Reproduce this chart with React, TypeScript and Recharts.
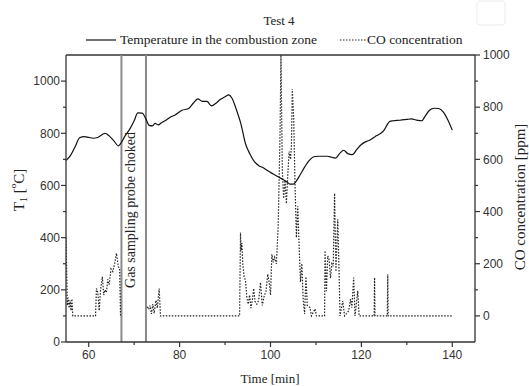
import { ComposedChart, Line, XAxis, YAxis, ReferenceLine } from 'recharts'

// temperature in the combustion zone, left axis [°C]
const tempTime = [
  55, 56, 57, 58, 59, 60, 61, 62, 63, 63.6, 64.5, 65.5, 66.5, 67, 68, 69, 70, 70.8, 71.8, 72.5,
  73.3, 74, 74.6, 75.3, 76, 77, 78, 79, 80.5, 82, 83, 84, 85, 86, 87, 88, 89, 90, 90.8, 91.5,
  92.5, 93.5, 94.5, 95.5, 96.5, 97.5, 98.5, 99.5, 100.5, 101.5, 102.5, 103.5, 104.3, 105, 105.6,
  106.5, 107.5, 108.5, 109.5, 110.5, 111.5, 112.5, 113.5, 114.3, 115.2, 116.1, 117, 118, 119,
  120, 121, 122, 123, 124, 125, 125.6, 126.2, 127, 128.5, 130, 131, 132, 133.3, 134, 135, 136,
  137, 138, 139, 140,
]
const tempValue = [
  695, 715, 748, 783, 787, 784, 781, 784, 795, 800, 790, 772, 752, 760, 790, 815, 848, 878, 877, 858,
  830, 828, 838, 832, 840, 850, 862, 870, 888, 895, 915, 932, 922, 922, 905, 915, 930, 940, 947, 935,
  890, 835, 760, 720, 690, 675, 667, 655, 645, 635, 625, 615, 605, 605, 615,
  640, 670, 695, 710, 712, 712, 712, 708, 705, 722, 735, 722, 718, 738,
  757, 768, 775, 787, 797, 812, 830, 845, 848, 850, 853, 855, 851, 848, 865, 888, 896,
  895, 882, 852, 812,
]

// CO concentration, right axis [ppm]; null = probe choked
const coTime = [
  55, 55.3, 55.5, 55.7, 55.9, 56.1, 56.3, 56.5, 61.5, 61.7, 62, 62.3, 62.6, 63, 63.3, 63.6, 63.9,
  64.2, 64.5, 64.9, 65.3, 65.7, 66.1, 66.5, 66.8, 67, 67.1,
  72.9, 73.2, 73.5, 73.8, 74.1, 74.4, 74.8, 75.1, 75.5, 75.8,
  93.2, 93.4, 93.5, 93.7, 93.9, 94.2, 94.5, 94.8, 95.1, 95.4, 95.7, 96, 96.3, 96.6, 97, 97.4, 97.8,
  98.2, 98.6, 99, 99.4, 99.7, 100, 100.3, 100.6, 100.9, 101.3, 101.7, 102.1, 102.3, 102.6, 102.9,
  103.2, 103.5, 103.8, 104.1, 104.4, 104.6, 104.8, 105.1, 105.4, 105.7, 106, 106.3, 106.6, 106.9,
  107.2, 107.5, 107.8, 108.1, 108.7, 109, 109.8, 110.1,
  111.9, 112, 112.3, 112.6, 112.9, 113.2, 113.5, 113.8, 114.1, 114.4, 114.8, 115.1, 115.3,
  115.9, 116.3, 117.2, 117.6, 117.9, 118.3, 118.6, 119.2, 119.5,
  122.8, 122.9, 123, 125.7, 125.8, 125.9, 140.2,
]
const coValue = [
  300, 40, 70, 30, 60, 20, 65, 0, 0, 105, 90, 20, 100, 150, 80, 100, 90,
  140, 120, 180, 170, 200, 240, 190, 180, 0, null,
  35, 25, 40, 8, 45, 10, 60, 30, 105, 0,
  0, 320, 250, 280, 200, 150, 135, 70, 45, 80, 30, 60, 105, 55, 45, 60, 128,
  40, 75, 95, 160, 130, 80, 236, 205, 225, 200, 350, 700, 1000, 560, 450,
  520, 430, 540, 630, 600, 650, 870, 760, 500, 300, 420, 270, 130, 200,
  60, 8, 150, 40, 32, 0, 27, 0,
  0, 250, 95, 230, 215, 145, 200, 190, 470, 170, 370, 160, 0,
  57, 0, 19, 64, 32, 147, 0, 96, 0,
  0, 147, 0, 0, 160, 0, 0,
]

const timeTicks = [60, 70, 80, 90, 100, 110, 120, 130, 140]
const tempTicks = [0, 100, 200, 300, 400, 500, 600, 700, 800, 900, 1000]
const coTicks = [0, 100, 200, 300, 400, 500, 600, 700, 800, 900, 1000]
const chokedFrom = 67.2
const chokedTo = 72.6

const tempData = tempTime.map((t, i) => ({ t, temp: tempValue[i] }))
const coData = coTime.map((t, i) => ({ t, co: coValue[i] }))

const TICK_SIZE = 5
const TICK_MARGIN = 2
const axisColor = '#333'
const sans = 'Liberation Sans, Arial, sans-serif'
const serif = 'Liberation Serif, Times New Roman, serif'
const tickFont = { fontFamily: sans, fontSize: 12, fill: '#333' }

function BottomTick({ x, y, payload }: any) {
  const y0 = y - TICK_MARGIN - TICK_SIZE
  const major = payload.value % 20 === 0
  return (
    <g>
      <line x1={x} x2={x} y1={y0} y2={y0 + (major ? 5 : 3)} stroke={axisColor} strokeWidth={1.2} />
      {major && (
        <text x={x} y={y0 + 8} dy="0.71em" textAnchor="middle" {...tickFont}>
          {payload.value}
        </text>
      )}
    </g>
  )
}

function LeftTick({ x, y, payload }: any) {
  const x0 = x + TICK_MARGIN + TICK_SIZE
  const major = payload.value % 200 === 0
  return (
    <g>
      <line x1={x0 - (major ? 5 : 3)} x2={x0} y1={y} y2={y} stroke={axisColor} strokeWidth={1.2} />
      {major && (
        <text x={x0 - 6} y={y} dy="0.355em" textAnchor="end" {...tickFont}>
          {payload.value}
        </text>
      )}
    </g>
  )
}

function RightTick({ x, y, payload }: any) {
  const x0 = x - TICK_MARGIN - TICK_SIZE
  const major = payload.value % 200 === 0
  return (
    <g>
      <line x1={x0} x2={x0 + (major ? 5 : 3)} y1={y} y2={y} stroke={axisColor} strokeWidth={1.2} />
      {major && (
        <text x={x0 + 8} y={y} dy="0.355em" textAnchor="start" {...tickFont}>
          {payload.value}
        </text>
      )}
    </g>
  )
}

export default function App() {
  return (
    <div style={{ position: 'absolute', left: 0, top: 0, width: 529, height: 386, background: '#fff' }}>
      <ComposedChart width={529} height={386} margin={{ top: 55, right: 0, bottom: 0, left: 0 }}>
        <XAxis
          dataKey="t"
          type="number"
          domain={[55, 145]}
          allowDataOverflow
          ticks={timeTicks}
          interval={0}
          height={44}
          tickSize={TICK_SIZE}
          tickMargin={TICK_MARGIN}
          tickLine={false}
          tick={<BottomTick />}
          axisLine={{ stroke: axisColor, strokeWidth: 1.3 }}
        />
        <YAxis
          yAxisId="left"
          type="number"
          domain={[0, 1100]}
          ticks={tempTicks}
          interval={0}
          width={66}
          tickSize={TICK_SIZE}
          tickMargin={TICK_MARGIN}
          tickLine={false}
          tick={<LeftTick />}
          axisLine={{ stroke: axisColor, strokeWidth: 1.3 }}
        />
        <YAxis
          yAxisId="right"
          orientation="right"
          type="number"
          domain={[-100, 1000]}
          allowDataOverflow
          ticks={coTicks}
          interval={0}
          width={54}
          tickSize={TICK_SIZE}
          tickMargin={TICK_MARGIN}
          tickLine={false}
          tick={<RightTick />}
          axisLine={{ stroke: axisColor, strokeWidth: 1.3 }}
        />
        <ReferenceLine yAxisId="left" y={1100} stroke={axisColor} strokeWidth={1.3} />
        <ReferenceLine yAxisId="left" x={chokedFrom} stroke="#8a8a8a" strokeWidth={2} />
        <ReferenceLine yAxisId="left" x={chokedTo} stroke="#8a8a8a" strokeWidth={2} />
        <Line
          yAxisId="right"
          data={coData}
          dataKey="co"
          type="linear"
          stroke="#222"
          strokeWidth={1.2}
          strokeDasharray="1.5 1.5"
          dot={false}
          activeDot={false}
          isAnimationActive={false}
        />
        <Line
          yAxisId="left"
          data={tempData}
          dataKey="temp"
          type="monotone"
          stroke="#111"
          strokeWidth={1.2}
          dot={false}
          activeDot={false}
          isAnimationActive={false}
        />
      </ComposedChart>
      <svg
        width={529}
        height={386}
        style={{ position: 'absolute', left: 0, top: 0, pointerEvents: 'none' }}
        fontFamily={serif}
        fill="#222"
      >
        <rect x={477} y={1} width={28} height={24} rx={3} fill="none" stroke="#ececec" />
        <text x={279} y={25} fontSize={13} textAnchor="middle">Test 4</text>
        <line x1={86} x2={116} y1={40} y2={40} stroke="#111" strokeWidth={1.2} />
        <text x={120} y={44} fontSize={13.5}>Temperature in the combustion zone</text>
        <line x1={340} x2={366} y1={40} y2={40} stroke="#222" strokeWidth={1.2} strokeDasharray="1.5 1.5" />
        <text x={367} y={44} fontSize={13.5}>CO concentration</text>
        <text x={270} y={383} fontSize={13} textAnchor="middle">Time [min]</text>
        <text
          x={19}
          y={190}
          fontSize={15}
          textAnchor="middle"
          dominantBaseline="central"
          transform="rotate(-90 19 190)"
        >
          T<tspan fontSize={10} dy={4}>1</tspan>
          <tspan dy={-4}> [</tspan>
          <tspan fontSize={9} dy={-6}>o</tspan>
          <tspan dy={6}>C]</tspan>
        </text>
        <text
          x={520}
          y={197}
          fontSize={15}
          textAnchor="middle"
          dominantBaseline="central"
          transform="rotate(-90 520 197)"
        >
          CO concentration [ppm]
        </text>
        <text
          x={130}
          y={210}
          fontSize={14}
          textAnchor="middle"
          dominantBaseline="central"
          transform="rotate(-90 130 210)"
        >
          Gas sampling probe choked
        </text>
      </svg>
    </div>
  )
}
